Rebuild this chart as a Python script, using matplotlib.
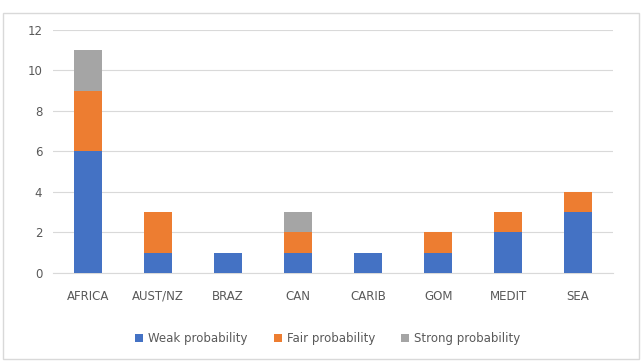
import matplotlib.pyplot as plt
from matplotlib.patches import Rectangle

regions = ['AFRICA', 'AUST/NZ', 'BRAZ', 'CAN', 'CARIB', 'GOM', 'MEDIT', 'SEA']
weak = [6, 1, 1, 1, 1, 1, 2, 3]
fair = [3, 2, 0, 1, 0, 1, 1, 1]
strong = [2, 0, 0, 1, 0, 0, 0, 0]

blue = '#4472C4'
orange = '#ED7D31'
grey = '#A5A5A5'
txt = '#595959'

fig = plt.figure(figsize=(6.42, 3.61), dpi=100)
fig.patches.append(Rectangle((0.005, 0.005), 0.99, 0.96, transform=fig.transFigure,
                             fill=False, edgecolor='#D9D9D9', linewidth=1))
ax = fig.add_axes([0.083, 0.244, 0.872, 0.673])

x = range(len(regions))
bottom2 = [w + f for w, f in zip(weak, fair)]
ax.bar(x, weak, width=0.4, color=blue, label='Weak probability', zorder=3)
ax.bar(x, fair, width=0.4, bottom=weak, color=orange, label='Fair probability', zorder=3)
ax.bar(x, strong, width=0.4, bottom=bottom2, color=grey, label='Strong probability', zorder=3)

ax.set_ylim(0, 12)
ax.set_xlim(-0.5, len(regions) - 0.5)
ax.set_yticks(range(0, 13, 2))
ax.set_xticks(list(x))
ax.set_xticklabels(regions)
ax.yaxis.grid(True, color='#D9D9D9', linewidth=0.8, zorder=0)
for s in ['top', 'right', 'left']:
    ax.spines[s].set_visible(False)
ax.spines['bottom'].set_color('#D9D9D9')
ax.tick_params(axis='both', length=0, colors=txt, labelsize=8.5)
ax.tick_params(axis='y', pad=8)
ax.tick_params(axis='x', pad=12)

ax.legend(loc='upper center', bbox_to_anchor=(0.49, -0.2), ncol=3, frameon=False,
          fontsize=8.5, labelcolor=txt, handlelength=0.7, handleheight=0.7,
          handletextpad=0.4, columnspacing=2.2)

fig.savefig('out.png', dpi=100)
